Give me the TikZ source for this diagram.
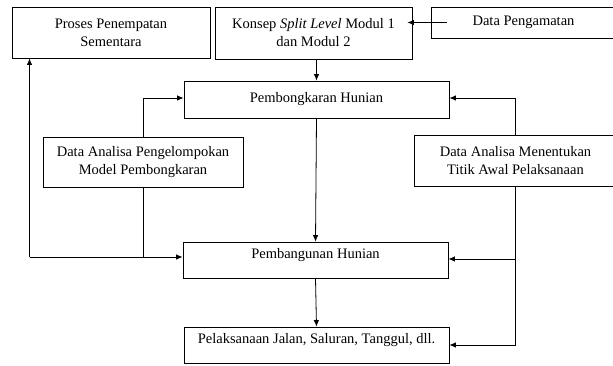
\documentclass[tikz,border=0pt]{standalone}
\usepackage{fontspec}
\setmainfont{Liberation Serif}
\usetikzlibrary{arrows.meta,calc}
\begin{document}
\begin{tikzpicture}[x=1pt,y=-1pt,
  box/.style={draw,line width=0.8pt,inner sep=0pt,align=center,font=\fontsize{14.5}{18}\selectfont},
  topbox/.style={box,text height=11pt,text depth=14pt},
  arr/.style={line width=0.8pt,-{Latex[length=6.5pt,width=5.5pt]}},
  ln/.style={line width=0.8pt}]
\useasboundingbox (0,0) rectangle (613,365);
\node[box,minimum width=198pt,minimum height=51pt] (proses) at (111,32.5) {Proses Penempatan\\Sementara};
\node[box,minimum width=197pt,minimum height=52pt] (konsep) at (313.5,33) {Konsep \textit{Split Level} Modul 1\\dan Modul 2};
\node[box,minimum width=185pt,minimum height=31pt] (pengamatan) at (523.5,22.5) {Data Pengamatan};
\node[box,minimum width=265pt,minimum height=37pt] (pembongkaran) at (316.5,99.5) {Pembongkaran Hunian};
\node[box,minimum width=200pt,minimum height=50pt] (pengelompokan) at (143,162) {Data Analisa Pengelompokan\\Model Pembongkaran};
\node[box,minimum width=203pt,minimum height=51pt] (menentukan) at (515.5,160.5) {Data Analisa Menentukan\\Titik Awal Pelaksanaan};
\node[topbox,minimum width=265pt,minimum height=36pt] (pembangunan) at (315.5,260) {Pembangunan Hunian};
\node[topbox,minimum width=265pt,minimum height=36pt] (pelaksanaan) at (316.5,345) {Pelaksanaan Jalan, Saluran, Tanggul, dll.};
% connectors
\coordinate (pa) at ($(pengamatan.west)+(16,0)$);
\draw[arr] (pa) -- ($(konsep.east |- pa)+(-5,0)$);
\draw[arr] (konsep.south -| pembongkaran.north) -- (pembongkaran.north);
\draw[arr] (pembongkaran.south) -- (pembangunan.north);
\draw[arr] (pembangunan.south) -- (pelaksanaan.north);
\draw[arr] (pengelompokan.north) |- ($(pembongkaran.west)+(0,-1.5)$);
\coordinate (L) at (29.5,257);
\draw[ln] (pengelompokan.south) -- ($(pengelompokan.south |- L)+(0,1)$);
\draw[arr] (L) -- (L -| pembangunan.west);
\draw[arr] (L) -- (L |- proses.south);
\draw[arr] (menentukan.north) |- ($(pembongkaran.east)+(0,-1.5)$);
\draw[arr] (menentukan.south) |- (pelaksanaan.east);
\draw[arr] ($(menentukan.south |- pembangunan.east)+(0,-1)$) -- ($(pembangunan.east)+(0,-1)$);
\end{tikzpicture}
\end{document}
